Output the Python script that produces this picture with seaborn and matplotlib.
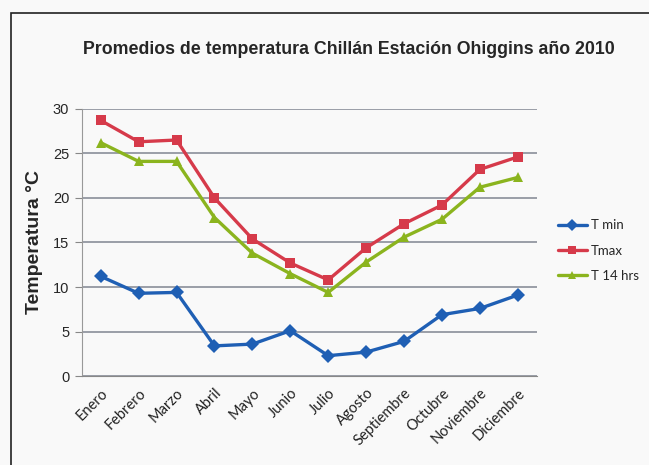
import pandas as pd
import seaborn as sns
import matplotlib.pyplot as plt
from matplotlib.patches import Rectangle

meses = ["Enero", "Febrero", "Marzo", "Abril", "Mayo", "Junio",
         "Julio", "Agosto", "Septiembre", "Octubre", "Noviembre", "Diciembre"]
t_min = [11.2, 9.3, 9.4, 3.4, 3.6, 5.1, 2.3, 2.7, 3.9, 6.9, 7.6, 9.1]
t_max = [28.7, 26.3, 26.5, 20.0, 15.4, 12.7, 10.8, 14.4, 17.1, 19.2, 23.2, 24.6]
t_14 = [26.2, 24.1, 24.1, 17.8, 13.8, 11.5, 9.4, 12.8, 15.6, 17.6, 21.2, 22.3]

df = pd.DataFrame({"Mes": meses, "T min": t_min, "Tmax": t_max, "T 14 hrs": t_14})
df_long = df.melt(id_vars="Mes", var_name="Serie", value_name="Temp")

sns.set_style("white")
plt.rcParams['font.family'] = ['Liberation Sans', 'DejaVu Sans']

fig = plt.figure(figsize=(6.49, 4.65), dpi=100)
fig.patch.set_facecolor('#f9f9f9')
ax = fig.add_axes([0.126, 0.191, 0.701, 0.575])
ax.set_facecolor('#f9f9f9')

# chart border (cut off at right and bottom in the scan)
fig.patches.append(Rectangle((11 / 649, -0.1), 1.2, 1 - 13 / 465 + 0.1,
                             transform=fig.transFigure, fill=False,
                             edgecolor='#222222', linewidth=1.2))

colores = {"T min": "#1f5fb4", "Tmax": "#d63a4a", "T 14 hrs": "#8bb41e"}
marcadores = {"T min": "D", "Tmax": "s", "T 14 hrs": "^"}

sns.lineplot(data=df_long, x="Mes", y="Temp", hue="Serie", style="Serie",
             palette=colores, markers=marcadores, dashes=False, sort=False,
             linewidth=2.4, markersize=7.5, markeredgewidth=0, ax=ax)

ax.set_ylim(0, 30)
ax.set_xlim(-0.5, 11.5)
ax.set_yticks(range(0, 31, 5))
ax.yaxis.grid(True, color='#8a8f9a', linewidth=1.2)
ax.set_axisbelow(True)

ax.set_xticks([i for i in range(12)])
ax.set_xticklabels(meses, rotation=45, ha='right', rotation_mode='anchor',
                   fontsize=10.5, family='Lato', color='#222222')
ax.tick_params(axis='x', length=0, pad=7)
ax.set_xticks([i - 0.5 for i in range(13)], minor=True)
ax.tick_params(axis='x', which='minor', length=5, color='#888888', direction='out')
ax.tick_params(axis='y', labelsize=10.5, length=5, color='#888888',
               direction='out', left=True, pad=4)

for s in ['top', 'right']:
    ax.spines[s].set_visible(False)
ax.spines['left'].set_color('#999999')
ax.spines['bottom'].set_color('#888888')

ax.set_xlabel("")
ax.set_ylabel("Temperatura °C", fontsize=14, fontweight='bold', labelpad=7)
fig.suptitle("Promedios de temperatura Chillán Estación Ohiggins año 2010",
             x=0.537, y=0.912, fontsize=12.8, fontweight='bold')

leg = ax.legend(title=None, loc='center left', bbox_to_anchor=(1.02, 0.47),
                frameon=False, fontsize=9.5, handlelength=2.2,
                labelspacing=1.0, handletextpad=0.3, markerscale=0.8)
for t in leg.get_texts():
    t.set_family('Lato')

fig.savefig("out.png", dpi=100, facecolor=fig.get_facecolor())
